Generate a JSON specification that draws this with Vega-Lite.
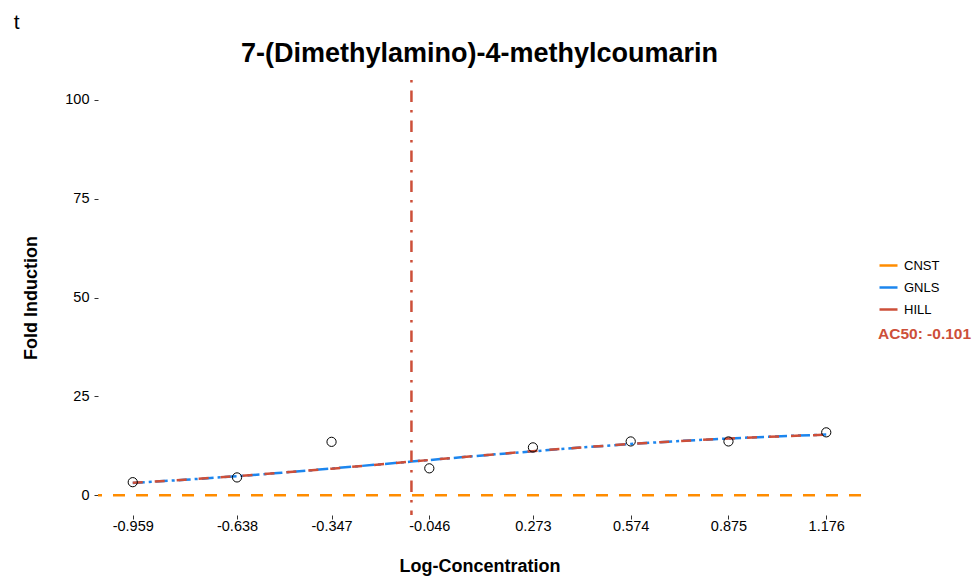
{
  "$schema": "https://vega.github.io/schema/vega-lite/v6.json",
  "background": "white",
  "padding": {"left": 13, "top": 11, "right": 3, "bottom": 2},
  "title": {"text": "t", "anchor": "start", "frame": "bounds", "fontSize": 21, "fontWeight": "normal", "font": "Liberation Sans", "color": "black", "dx": -9, "offset": 7},
  "config": {
    "font": "Liberation Sans",
    "view": {"stroke": null},
    "axis": {"domain": false, "grid": false, "labelFont": "Liberation Sans", "titleFont": "Liberation Sans", "labelColor": "black", "titleColor": "black", "tickColor": "#333333", "labelFontSize": 14.5, "titleFontSize": 18, "titleFontWeight": "bold", "tickSize": 4}
  },
  "datasets": {
    "points": [
      {"x": -0.959, "y": 3.3},
      {"x": -0.638, "y": 4.5},
      {"x": -0.347, "y": 13.5},
      {"x": -0.046, "y": 6.8},
      {"x": 0.273, "y": 12.1},
      {"x": 0.574, "y": 13.6},
      {"x": 0.875, "y": 13.6},
      {"x": 1.176, "y": 15.9}
    ],
    "hill": [
      {"x": -0.959, "y": 3.15},
      {"x": -0.8, "y": 3.92},
      {"x": -0.638, "y": 4.82},
      {"x": -0.5, "y": 5.69},
      {"x": -0.347, "y": 6.72},
      {"x": -0.2, "y": 7.78},
      {"x": -0.101, "y": 8.5},
      {"x": -0.046, "y": 8.91},
      {"x": 0.1, "y": 9.96},
      {"x": 0.273, "y": 11.15},
      {"x": 0.4, "y": 11.96},
      {"x": 0.574, "y": 12.96},
      {"x": 0.7, "y": 13.59},
      {"x": 0.875, "y": 14.34},
      {"x": 1.0, "y": 14.79},
      {"x": 1.176, "y": 15.3}
    ],
    "gnls": [
      {"x": -0.959, "y": 3.1},
      {"x": -0.8, "y": 3.9},
      {"x": -0.638, "y": 4.8},
      {"x": -0.5, "y": 5.7},
      {"x": -0.347, "y": 6.75},
      {"x": -0.2, "y": 7.8},
      {"x": -0.101, "y": 8.5},
      {"x": -0.046, "y": 8.9},
      {"x": 0.1, "y": 9.95},
      {"x": 0.273, "y": 11.1},
      {"x": 0.4, "y": 11.95},
      {"x": 0.574, "y": 12.95},
      {"x": 0.7, "y": 13.6},
      {"x": 0.875, "y": 14.35},
      {"x": 1.0, "y": 14.8},
      {"x": 1.176, "y": 15.35}
    ]
  },
  "vconcat": [
    {
      "width": 763,
      "height": 435,
      "title": {"text": "7-(Dimethylamino)-4-methylcoumarin", "fontSize": 27, "fontWeight": "bold", "color": "black", "anchor": "middle", "offset": 11},
      "layer": [
        {
          "data": {"name": "points"},
          "mark": {"type": "point", "opacity": 0},
          "encoding": {
            "x": {"field": "x", "type": "quantitative", "scale": {"domain": [-1.066, 1.283], "nice": false, "zero": false},
              "axis": {"title": "Log-Concentration", "values": [-0.959, -0.638, -0.347, -0.046, 0.273, 0.574, 0.875, 1.176], "labelExpr": "replace(format(datum.value, '.3f'), '\u2212', '-')", "labelPadding": 0, "titlePadding": 25}},
            "y": {"field": "y", "type": "quantitative", "scale": {"domain": [-5, 105], "nice": false, "zero": false},
              "axis": {"title": "Fold Induction", "values": [0, 25, 50, 75, 100], "labelPadding": 5, "titlePadding": 24}}
          }
        },
        {
          "data": {"values": [{}]},
          "mark": {"type": "rule", "strokeWidth": 2.5, "strokeDash": [12, 11]},
          "encoding": {"y": {"datum": 0, "type": "quantitative"}, "color": {"datum": "CNST", "type": "nominal", "scale": {"domain": ["CNST", "GNLS", "HILL"], "range": ["#FF8C00", "#1C86EE", "#CD4F39"]},
            "legend": {"title": "AC50: -0.101", "titleOrient": "bottom", "titleColor": "#CD4F39", "titleFontSize": 15.5, "titleFontWeight": "bold", "titleFont": "Liberation Sans", "titlePadding": 10, "orient": "none", "legendX": 780, "legendY": 175, "symbolType": "stroke", "symbolSize": 324, "symbolStrokeWidth": 2.5, "labelFontSize": 13, "labelFont": "Liberation Sans", "labelColor": "black", "rowPadding": 4, "labelOffset": 5}}}
        },
        {
          "data": {"name": "gnls"},
          "mark": {"type": "line", "strokeWidth": 2.5, "strokeDash": [12, 4, 3, 4]},
          "encoding": {"x": {"field": "x", "type": "quantitative"}, "y": {"field": "y", "type": "quantitative"}, "color": {"datum": "GNLS", "type": "nominal"}}
        },
        {
          "data": {"name": "hill"},
          "mark": {"type": "line", "strokeWidth": 2.5, "strokeDash": [10, 12]},
          "encoding": {"x": {"field": "x", "type": "quantitative"}, "y": {"field": "y", "type": "quantitative"}, "color": {"datum": "HILL", "type": "nominal"}}
        },
        {
          "data": {"values": [{}]},
          "mark": {"type": "rule", "strokeWidth": 2.5, "color": "#CD4F39", "strokeDash": [2.5, 8, 11.5, 8]},
          "encoding": {"x": {"datum": -0.101, "type": "quantitative"}}
        },
        {
          "data": {"name": "points"},
          "mark": {"type": "point", "filled": false, "size": 85, "stroke": "black", "strokeWidth": 1, "opacity": 1},
          "encoding": {"x": {"field": "x", "type": "quantitative"}, "y": {"field": "y", "type": "quantitative"}}
        }
      ]
    }
  ]
}
